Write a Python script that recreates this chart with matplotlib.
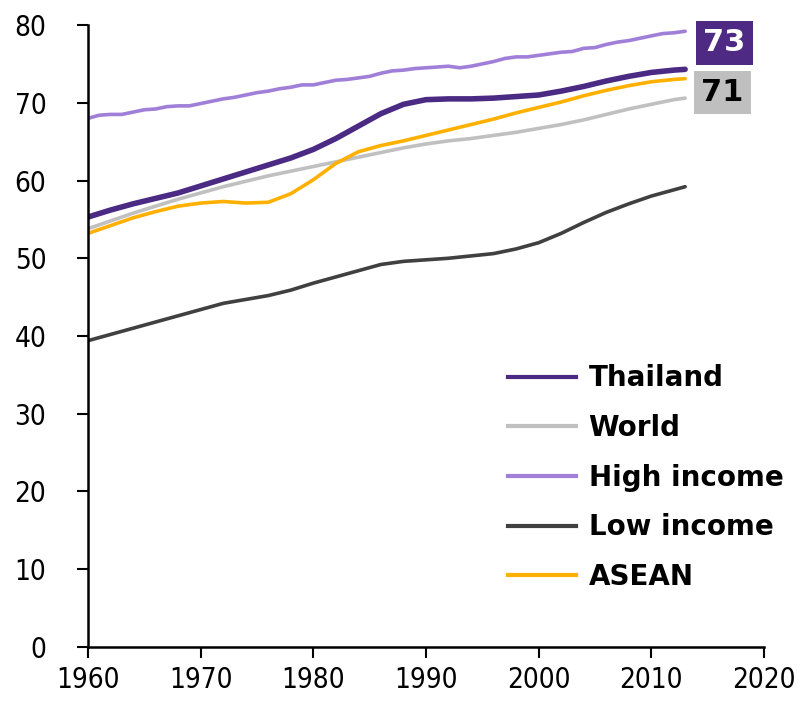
import matplotlib
matplotlib.use("Agg")
import matplotlib.pyplot as plt
from matplotlib.lines import Line2D

years_hi = list(range(1960, 2014))
high_income = [68.0, 68.4, 68.5, 68.5, 68.8, 69.1, 69.2, 69.5, 69.6, 69.6,
               69.9, 70.2, 70.5, 70.7, 71.0, 71.3, 71.5, 71.8, 72.0, 72.3,
               72.3, 72.6, 72.9, 73.0, 73.2, 73.4, 73.8, 74.1, 74.2, 74.4,
               74.5, 74.6, 74.7, 74.5, 74.7, 75.0, 75.3, 75.7, 75.9, 75.9,
               76.1, 76.3, 76.5, 76.6, 77.0, 77.1, 77.5, 77.8, 78.0, 78.3,
               78.6, 78.9, 79.0, 79.2]

years = [1960, 1962, 1964, 1966, 1968, 1970, 1972, 1974, 1976, 1978,
         1980, 1982, 1984, 1986, 1988, 1990, 1992, 1994, 1996, 1998,
         2000, 2002, 2004, 2006, 2008, 2010, 2012, 2013]
thailand = [55.3, 56.2, 57.0, 57.7, 58.4, 59.3, 60.2, 61.1, 62.0, 62.9,
            64.0, 65.4, 67.0, 68.6, 69.8, 70.4, 70.5, 70.5, 70.6, 70.8,
            71.0, 71.5, 72.1, 72.8, 73.4, 73.9, 74.2, 74.3]
world = [53.8, 54.8, 55.8, 56.7, 57.6, 58.4, 59.2, 59.9, 60.6, 61.2,
         61.8, 62.4, 63.0, 63.6, 64.2, 64.7, 65.1, 65.4, 65.8, 66.2,
         66.7, 67.2, 67.8, 68.5, 69.2, 69.8, 70.4, 70.6]
low_income = [39.4, 40.2, 41.0, 41.8, 42.6, 43.4, 44.2, 44.7, 45.2, 45.9,
              46.8, 47.6, 48.4, 49.2, 49.6, 49.8, 50.0, 50.3, 50.6, 51.2,
              52.0, 53.2, 54.6, 55.9, 57.0, 58.0, 58.8, 59.2]
asean = [53.2, 54.2, 55.2, 56.0, 56.7, 57.1, 57.3, 57.1, 57.2, 58.3,
         60.1, 62.2, 63.7, 64.5, 65.1, 65.8, 66.5, 67.2, 67.9, 68.7,
         69.4, 70.1, 70.9, 71.6, 72.2, 72.7, 73.0, 73.1]

labels = ["Thailand", "World", "High income", "Low income", "ASEAN"]
colors = ["#4B2A84", "#C0C0C0", "#A07FD8", "#404040", "#FFB000"]
x_ticks = [1960, 1970, 1980, 1990, 2000, 2010, 2020]
y_ticks = [0, 10, 20, 30, 40, 50, 60, 70, 80]
badge_values = ["73", "71"]
badge_colors = ["#4E2A84", "#BFBFBF"]
badge_text_colors = ["white", "black"]

fig = plt.figure(figsize=(8.03, 7.03), dpi=100)
ax = fig.add_axes([0.1096, 0.0797, 0.8418, 0.8847])

series = [(years, thailand), (years, world), (years_hi, high_income),
          (years, low_income), (years, asean)]
widths = [4.0, 2.6, 2.6, 2.6, 2.6]
order = [1, 2, 3, 4, 0]
for i in order:
    xs, ys = series[i]
    ax.plot(xs, ys, color=colors[i], lw=widths[i],
            solid_capstyle="round", solid_joinstyle="round", label=labels[i])

leg_handles = [Line2D([], [], color=colors[i], lw=3) for i in range(5)]
ax.legend(leg_handles, labels, loc="lower left",
          bbox_to_anchor=(0.605, 0.072), frameon=False,
          prop={"family": "DejaVu Sans", "weight": "bold", "size": 20},
          handlelength=2.45, handletextpad=0.45, labelspacing=0.78,
          borderaxespad=0)

ax.set_xlim(1960, 2020)
ax.set_ylim(0, 80)
ax.set_xticks(x_ticks)
ax.set_yticks(y_ticks)
for s in ["top", "right"]:
    ax.spines[s].set_visible(False)
for s in ["left", "bottom"]:
    ax.spines[s].set_linewidth(1.8)
ax.tick_params(axis="both", direction="out", length=8, width=1.5,
               labelsize=20)
ax.tick_params(axis="x", pad=6)
ax.tick_params(axis="y", pad=22)
for t in ax.get_xticklabels() + ax.get_yticklabels():
    t.set_fontstretch("condensed")

badge_pos = [(2016.5, 77.7), (2016.3, 71.3)]
for (bx, by), v, bc, tc in zip(badge_pos, badge_values, badge_colors,
                               badge_text_colors):
    ax.text(bx, by, v, ha="center", va="center", fontsize=22,
            fontweight="bold", color=tc, clip_on=False,
            bbox=dict(boxstyle="square,pad=0.24", fc=bc, ec="none"))

fig.savefig("out.png", dpi=100)
